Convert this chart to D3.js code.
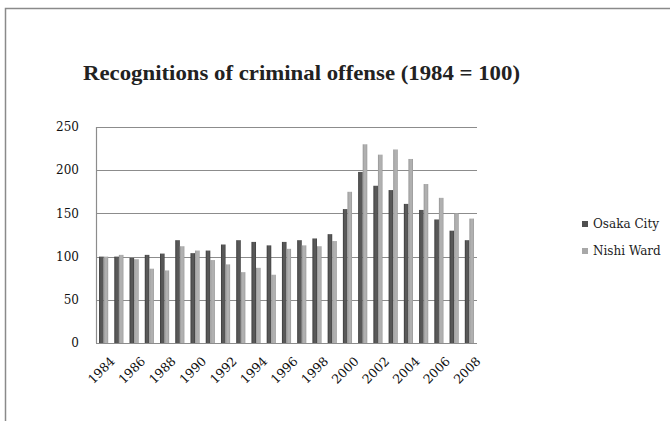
<!DOCTYPE html>
<html>
<head>
<meta charset="utf-8">
<script src="https://cdn.jsdelivr.net/npm/d3@7"></script>
<style>
  body { margin: 0; background: #fff; }
  svg { display: block; }
</style>
</head>
<body>
<div id="chart"></div>
<script>
// values (1984 = 100)
const years = ["1984","1985","1986","1987","1988","1989","1990","1991","1992","1993","1994","1995","1996",
               "1997","1998","1999","2000","2001","2002","2003","2004","2005","2006","2007","2008"];
const osakaCity = [100,100,98.5,102,103.5,119,104,107,114,119,117,113,117,119,121,126,155,198,182,177,161,154,143,130,119];
const nishiWard = [100,102,97,86,84,112,107,96,91,82,87,79,109,113,112,118,175,230,218,224,213,184,168,150,144];
const seriesNames = ["Osaka City", "Nishi Ward"];
const yTicks = [0, 50, 100, 150, 200, 250];
const xLabelYears = years.filter((d, i) => i % 2 === 0);

const W = 670, H = 421;
const margin = { top: 127, right: 193, bottom: 78, left: 96 };

let svg = d3.select("#chart").append("svg")
    .attr("width", W)
    .attr("height", H);

// outer frame, runs off the right and bottom edge
svg.append("rect")
    .attr("x", 5.5).attr("y", 8.5)
    .attr("width", W + 20).attr("height", H + 20)
    .attr("fill", "none")
    .attr("stroke", "#8a8a8a")
    .attr("stroke-width", 1.5);

let defs = svg.append("defs");
function barGradient(id, edge, mid) {
    let g = defs.append("linearGradient").attr("id", id)
        .attr("x1", "0%").attr("x2", "100%").attr("y1", "0%").attr("y2", "0%");
    g.append("stop").attr("offset", "0%").attr("stop-color", edge);
    g.append("stop").attr("offset", "35%").attr("stop-color", mid);
    g.append("stop").attr("offset", "75%").attr("stop-color", mid);
    g.append("stop").attr("offset", "100%").attr("stop-color", edge);
}
barGradient("gDark", "#3a3a3a", "#585858");
barGradient("gLight", "#959595", "#b0b0b0");
const fills = ["url(#gDark)", "url(#gLight)"];
const legendFills = ["#505050", "#a8a8a8"];

let width = 477 - margin.left;
let height = 343 - margin.top;

let g = svg.append("g")
    .attr("transform", "translate(" + margin.left + "," + margin.top + ")");

let x0 = d3.scaleBand().domain(years).range([0, width]).paddingInner(0.4).paddingOuter(0.2);
let x1 = d3.scaleBand().domain(seriesNames).range([0, x0.bandwidth()]);
let y = d3.scaleLinear().domain([0, 250]).range([height, 0]);

// gridlines
g.selectAll(".grid")
    .data(yTicks)
    .enter()
    .append("line")
    .attr("x1", 0).attr("x2", width)
    .attr("y1", d => Math.round(y(d)) + 0.5)
    .attr("y2", d => Math.round(y(d)) + 0.5)
    .attr("stroke", "#8c8c8c")
    .attr("stroke-width", 1.2);

// left axis line
g.append("line")
    .attr("x1", 0.5).attr("x2", 0.5)
    .attr("y1", 0).attr("y2", height)
    .attr("stroke", "#8c8c8c")
    .attr("stroke-width", 1.2);

// y tick labels
g.selectAll(".ylab")
    .data(yTicks)
    .enter()
    .append("text")
    .attr("x", -17)
    .attr("y", d => y(d))
    .attr("dy", "0.35em")
    .attr("text-anchor", "end")
    .style("font-family", "'DejaVu Serif', serif")
    .style("font-size", "12px")
    .attr("fill", "#111")
    .text(d => d);

// bars
let data = years.map((yr, i) => ({ year: yr, values: [osakaCity[i], nishiWard[i]] }));
let groups = g.selectAll(".yr")
    .data(data)
    .enter()
    .append("g")
    .attr("transform", d => "translate(" + x0(d.year) + ",0)");

groups.selectAll("rect")
    .data(d => d.values.map((v, k) => ({ name: seriesNames[k], v: v, k: k })))
    .enter()
    .append("rect")
    .attr("x", d => x1(d.name))
    .attr("y", d => y(d.v))
    .attr("width", x1.bandwidth())
    .attr("height", d => height - y(d.v))
    .attr("fill", d => fills[d.k]);

// x labels, every other year, rotated
g.selectAll(".xlab")
    .data(xLabelYears)
    .enter()
    .append("text")
    .attr("transform", d => "translate(" + (x0(d) + x0.bandwidth() / 2 + 9) + "," + (height + 16) + ") rotate(-45)")
    .attr("text-anchor", "end")
    .attr("dy", "0.35em")
    .style("font-family", "'DejaVu Serif', serif")
    .style("font-size", "12.5px")
    .attr("fill", "#111")
    .text(d => d);

// title
svg.append("text")
    .attr("x", 83)
    .attr("y", 80)
    .style("font-family", "'Liberation Serif', serif")
    .style("font-weight", "bold")
    .style("font-size", "21px")
    .attr("textLength", 437)
    .attr("lengthAdjust", "spacingAndGlyphs")
    .attr("fill", "#222")
    .text("Recognitions of criminal offense (1984 = 100)");

// legend
let legend = svg.append("g").attr("transform", "translate(582,221)");
let items = legend.selectAll(".item")
    .data(seriesNames)
    .enter()
    .append("g")
    .attr("transform", (d, i) => "translate(0," + (i * 27) + ")");
items.append("rect")
    .attr("width", 6).attr("height", 6)
    .attr("fill", (d, i) => legendFills[i]);
items.append("text")
    .attr("x", 11)
    .attr("y", 3)
    .attr("dy", "0.35em")
    .style("font-family", "'DejaVu Serif', serif")
    .style("font-size", "12px")
    .attr("fill", "#222")
    .text(d => d);
</script>
</body>
</html>
